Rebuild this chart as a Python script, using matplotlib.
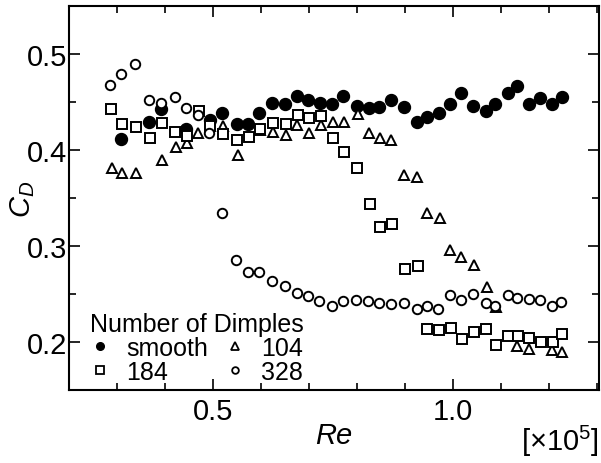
import matplotlib
matplotlib.use("Agg")
import matplotlib.pyplot as plt
from matplotlib.lines import Line2D
from matplotlib.ticker import MultipleLocator

plt.rcParams["font.family"] = "Liberation Sans"
plt.rcParams["mathtext.fontset"] = "custom"
plt.rcParams["mathtext.rm"] = "Liberation Sans"
plt.rcParams["mathtext.it"] = "Liberation Sans:italic"

# Re in units of 1e5, drag coefficient C_D
smooth_re = [0.308, 0.367, 0.392, 0.444, 0.494, 0.519, 0.550, 0.573, 0.596, 0.623,
             0.650, 0.675, 0.698, 0.723, 0.748, 0.771, 0.800, 0.825, 0.846, 0.871,
             0.898, 0.925, 0.946, 0.971, 0.994, 1.017, 1.042, 1.069, 1.088, 1.115,
             1.135, 1.158, 1.183, 1.208, 1.227]
smooth_cd = [0.411, 0.429, 0.443, 0.422, 0.431, 0.439, 0.427, 0.427, 0.439, 0.449,
             0.448, 0.456, 0.452, 0.449, 0.448, 0.456, 0.446, 0.444, 0.445, 0.452,
             0.445, 0.429, 0.434, 0.439, 0.448, 0.459, 0.446, 0.441, 0.448, 0.459,
             0.467, 0.448, 0.454, 0.448, 0.455]

d104_re = [0.289, 0.311, 0.340, 0.393, 0.423, 0.447, 0.469, 0.521, 0.552, 0.598,
           0.626, 0.652, 0.676, 0.701, 0.725, 0.751, 0.774, 0.802, 0.826, 0.848,
           0.872, 0.898, 0.925, 0.947, 0.973, 0.994, 1.018, 1.044, 1.072, 1.090,
           1.135, 1.160, 1.208, 1.227]
d104_cd = [0.381, 0.376, 0.376, 0.390, 0.403, 0.407, 0.418, 0.425, 0.395, 0.421,
           0.419, 0.416, 0.426, 0.418, 0.426, 0.429, 0.429, 0.437, 0.418, 0.412,
           0.410, 0.374, 0.372, 0.334, 0.329, 0.296, 0.289, 0.280, 0.257, 0.236,
           0.196, 0.193, 0.192, 0.190]

d184_re = [0.287, 0.310, 0.340, 0.369, 0.394, 0.422, 0.445, 0.471, 0.493, 0.521,
           0.551, 0.575, 0.598, 0.626, 0.652, 0.677, 0.701, 0.725, 0.751, 0.773,
           0.800, 0.827, 0.848, 0.873, 0.900, 0.928, 0.947, 0.972, 0.996, 1.019,
           1.044, 1.070, 1.090, 1.116, 1.136, 1.160, 1.185, 1.209, 1.227]
d184_cd = [0.443, 0.427, 0.424, 0.413, 0.428, 0.419, 0.415, 0.441, 0.425, 0.417,
           0.410, 0.414, 0.422, 0.428, 0.427, 0.436, 0.433, 0.435, 0.412, 0.398,
           0.381, 0.344, 0.320, 0.323, 0.276, 0.279, 0.214, 0.212, 0.215, 0.203,
           0.210, 0.214, 0.197, 0.206, 0.206, 0.204, 0.200, 0.200, 0.208]

d328_re = [0.285, 0.308, 0.338, 0.367, 0.392, 0.421, 0.444, 0.469, 0.492, 0.518,
           0.549, 0.574, 0.596, 0.623, 0.650, 0.675, 0.698, 0.722, 0.748, 0.771,
           0.799, 0.824, 0.847, 0.871, 0.898, 0.925, 0.946, 0.970, 0.994, 1.017,
           1.042, 1.069, 1.088, 1.115, 1.135, 1.159, 1.183, 1.208, 1.226]
d328_cd = [0.468, 0.479, 0.490, 0.452, 0.449, 0.455, 0.444, 0.436, 0.418, 0.334,
           0.285, 0.273, 0.273, 0.264, 0.258, 0.251, 0.248, 0.243, 0.238, 0.243,
           0.244, 0.243, 0.241, 0.240, 0.241, 0.234, 0.238, 0.234, 0.249, 0.244,
           0.250, 0.241, 0.237, 0.249, 0.246, 0.245, 0.244, 0.238, 0.242]

fig = plt.figure(figsize=(6.01, 4.64), dpi=100)
ax = fig.add_axes([0.1148, 0.1573, 0.8819, 0.8276])

ax.plot(smooth_re, smooth_cd, "o", ms=8.6, color="black", mec="black", zorder=3)
ax.plot(d104_re, d104_cd, "^", ms=7.5, mfc="white", mec="black", mew=1.4, zorder=4)
ax.plot(d184_re, d184_cd, "s", ms=7, mfc="white", mec="black", mew=1.4, zorder=5)
ax.plot(d328_re, d328_cd, "o", ms=6.8, mfc="white", mec="black", mew=1.4, zorder=6)

ax.set_xlim(0.2, 1.305)
ax.set_ylim(0.15, 0.55)
ax.xaxis.set_major_locator(MultipleLocator(0.5))
ax.xaxis.set_minor_locator(MultipleLocator(0.1))
ax.yaxis.set_major_locator(MultipleLocator(0.1))
ax.yaxis.set_minor_locator(MultipleLocator(0.05))
ax.xaxis.set_major_formatter(lambda v, p: f"{v:.1f}")
ax.yaxis.set_major_formatter(lambda v, p: f"{v:.1f}")

ax.tick_params(which="both", direction="in", top=True, right=True, width=1.2, labelsize=21)
ax.tick_params(which="major", length=8)
ax.tick_params(which="minor", length=5)
ax.tick_params(axis="x", pad=5)
ax.tick_params(axis="y", pad=1)
for sp in ax.spines.values():
    sp.set_linewidth(1.5)

ax.set_xlabel("Re", fontstyle="italic", fontsize=21, labelpad=-3)
ax.set_ylabel(r"$C_D$", fontsize=21)
ax.yaxis.set_label_coords(-0.06, 0.5)
fig.text(0.997, 1 - 441 / 464, r"[×10$^5$]", ha="right", va="center", fontsize=21)

handles = [
    Line2D([], [], ls="", marker="o", ms=5.5, color="black"),
    Line2D([], [], ls="", marker="s", ms=5.5, mfc="white", mec="black", mew=1.3),
    Line2D([], [], ls="", marker="^", ms=6, mfc="white", mec="black", mew=1.3),
    Line2D([], [], ls="", marker="o", ms=4.8, mfc="white", mec="black", mew=1.3),
]
labels = ["smooth", "184", "104", "328"]
leg = ax.legend(handles, labels, title="Number of Dimples", ncol=2, frameon=False,
                loc="lower left", bbox_to_anchor=(0.04, 0.016), borderaxespad=0,
                borderpad=0, fontsize=18, title_fontsize=18, alignment="left",
                handlelength=0.8, handletextpad=0.64, columnspacing=0.68,
                labelspacing=0.0)

fig.savefig("out.png", dpi=100)
